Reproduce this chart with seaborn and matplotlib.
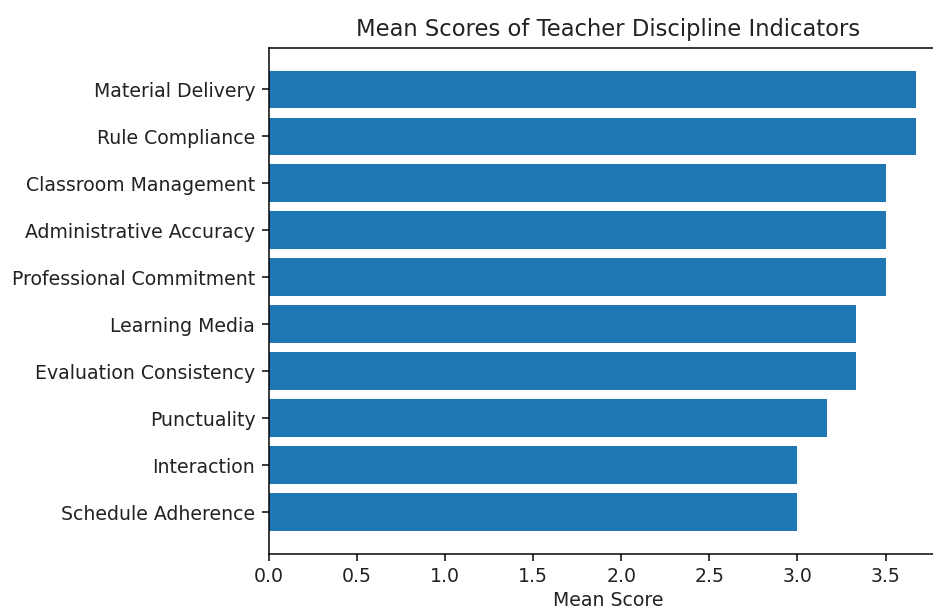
import matplotlib
matplotlib.use("Agg")
import matplotlib.pyplot as plt
import seaborn as sns
import pandas as pd

indicators = [
    "Material Delivery",
    "Rule Compliance",
    "Classroom Management",
    "Administrative Accuracy",
    "Professional Commitment",
    "Learning Media",
    "Evaluation Consistency",
    "Punctuality",
    "Interaction",
    "Schedule Adherence",
]
mean_scores = [3.67, 3.67, 3.50, 3.50, 3.50, 3.33, 3.33, 3.17, 3.00, 3.00]

df = pd.DataFrame({"Indicator": indicators, "Mean Score": mean_scores})

s = 1.36
plt.rcParams.update({
    "font.size": 10 * s,
    "axes.linewidth": 0.8 * s,
    "xtick.major.size": 3.5 * s,
    "ytick.major.size": 3.5 * s,
    "xtick.major.width": 0.8 * s,
    "ytick.major.width": 0.8 * s,
    "xtick.major.pad": 3.5 * s,
    "ytick.major.pad": 3.5 * s,
    "axes.titlepad": 6 * s,
    "text.color": "#222222",
    "axes.labelcolor": "#222222",
    "xtick.labelcolor": "#222222",
    "ytick.labelcolor": "#222222",
})

fig = plt.figure(figsize=(9.33, 6.10), dpi=100)
ax = fig.add_axes([268.5 / 933, 56 / 610, 679.5 / 933, 506.5 / 610])

sns.barplot(data=df, y="Indicator", x="Mean Score", orient="h",
            color="#1f77b4", saturation=1, width=0.8, ax=ax)

n = len(indicators)
ax.set_ylim(n - 1 + 0.4 + 0.49, -0.4 - 0.49)
ax.set_xlim(0, max(mean_scores) * 1.05)
ax.set_ylabel("")
ax.set_xlabel("Mean Score", fontsize=10 * s, labelpad=3.8)
ax.set_title("Mean Scores of Teacher Discipline Indicators", fontsize=12 * s)
ax.tick_params(labelsize=10 * s)

fig.savefig("out.png", dpi=100)
